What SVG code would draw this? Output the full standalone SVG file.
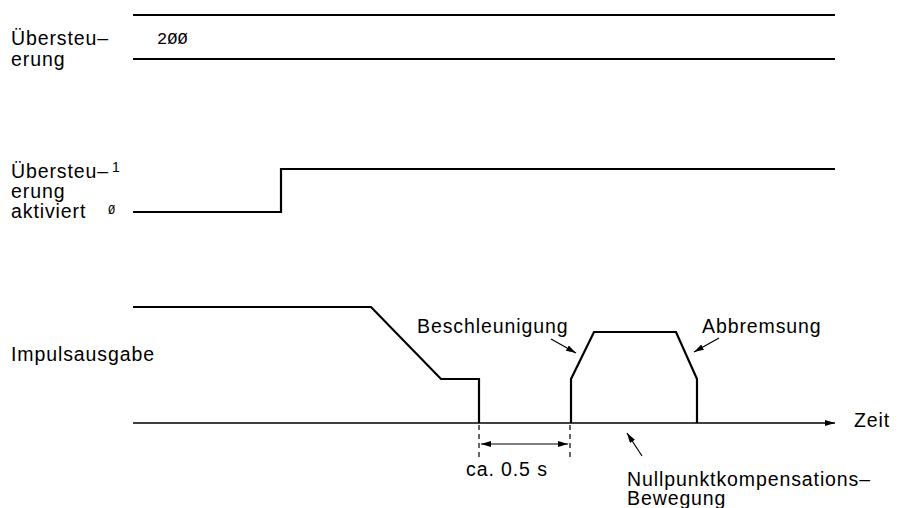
<svg xmlns="http://www.w3.org/2000/svg" width="898" height="508" viewBox="0 0 898 508">
<defs>
<marker id="ah" viewBox="0 0 10 6" refX="10" refY="3" markerWidth="10" markerHeight="6" markerUnits="userSpaceOnUse" orient="auto-start-reverse">
<path d="M0,0 L10,3 L0,6 z" fill="#000"/>
</marker>
</defs>
<style>
text{font-family:"Liberation Sans",Arial,sans-serif;font-size:19.5px;letter-spacing:0.9px;fill:#000}
.mono{font-family:"Liberation Mono","DejaVu Sans Mono",monospace;font-size:17px;letter-spacing:0}
.sig{fill:none;stroke:#000;stroke-width:2.2;stroke-linejoin:miter}
.ax{fill:none;stroke:#000;stroke-width:1.6}
.dash{fill:none;stroke:#000;stroke-width:1.2;stroke-dasharray:5,4}
.thin{fill:none;stroke:#000;stroke-width:1.2}
</style>
<rect width="898" height="508" fill="#fff"/>
<g id="label-uebersteuerung">
<text x="11" y="45">Übersteu–</text>
<text x="11" y="66">erung</text>
</g>
<g id="signal-uebersteuerung">
<line class="sig" x1="133" y1="15" x2="835" y2="15"/>
<line class="sig" x1="133" y1="59" x2="835" y2="59"/>
<text class="mono" x="157" y="44">2ØØ</text>
</g>
<g id="label-aktiviert">
<text x="11" y="178">Übersteu–</text>
<text x="112" y="172" style="font-size:14px;letter-spacing:0">1</text>
<text x="11" y="198">erung</text>
<text x="11" y="218">aktiviert</text>
<text class="mono" x="108" y="214" style="font-size:12px">Ø</text>
</g>
<g id="signal-aktiviert">
<polyline class="sig" points="133,212 281,212 281,169 835,169"/>
</g>
<g id="label-impuls">
<text x="11" y="361">Impulsausgabe</text>
</g>
<g id="signal-impuls">
<polyline class="sig" points="133,307 371,307 441,379 479,379 479,423"/>
<polyline class="sig" points="571,423 571,379 594,332 676,332 697,379 697,423"/>
</g>
<g id="connectors">
<line class="ax" x1="133" y1="423" x2="835" y2="423" marker-end="url(#ah)"/>
<line class="dash" x1="479" y1="425" x2="479" y2="457"/>
<line class="dash" x1="570" y1="425" x2="570" y2="457"/>
<line class="thin" x1="481" y1="444" x2="568" y2="444" marker-start="url(#ah)" marker-end="url(#ah)"/>
<line class="thin" x1="551" y1="339" x2="576" y2="353" marker-end="url(#ah)"/>
<line class="thin" x1="719" y1="338" x2="694" y2="352" marker-end="url(#ah)"/>
<line class="thin" x1="642" y1="456" x2="627" y2="433" marker-end="url(#ah)"/>
</g>
<g id="annotations">
<text x="854" y="427">Zeit</text>
<text x="466" y="476">ca. 0.5 s</text>
<text x="417" y="333">Beschleunigung</text>
<text x="702" y="333">Abbremsung</text>
<text x="627" y="486">Nullpunktkompensations–</text>
<text x="627" y="505">Bewegung</text>
</g>
</svg>
